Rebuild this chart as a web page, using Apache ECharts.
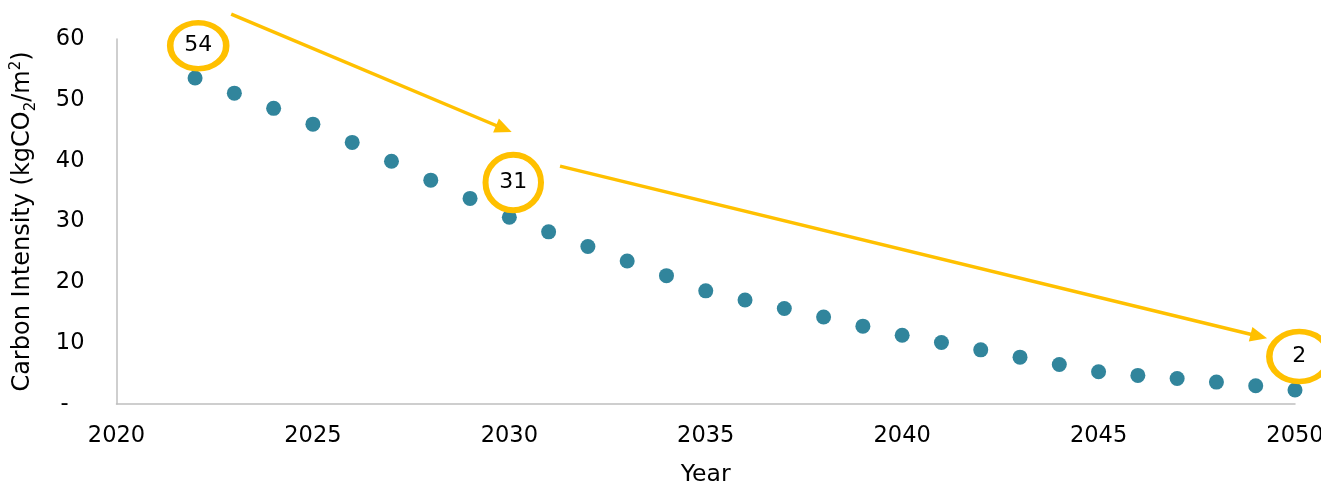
<!DOCTYPE html>
<html><head><meta charset="utf-8">
<script src="https://cdn.jsdelivr.net/npm/echarts@6/dist/echarts.min.js"></script>
<style>html,body{margin:0;padding:0;background:#fff}#c{width:1321px;height:483px}</style>
</head><body><div id="c"></div>
<script>
// ---- data ----
const years = [2022,2023,2024,2025,2026,2027,2028,2029,2030,2031,2032,2033,2034,2035,2036,2037,2038,2039,2040,2041,2042,2043,2044,2045,2046,2047,2048,2049,2050];
const intensity = [53.6,51.1,48.6,46.0,43.0,39.9,36.8,33.8,30.7,28.3,25.9,23.5,21.1,18.6,17.1,15.7,14.3,12.8,11.3,10.1,8.9,7.7,6.5,5.3,4.7,4.2,3.6,3.0,2.3];
const yTicks = [0,10,20,30,40,50,60];
const xTicks = [2020,2025,2030,2035,2040,2045,2050];
const calloutLabels = ['54','31','2'];
const calloutYear = [2022.08, 2030.10, 2050.11];
const calloutValue = [58.9, 36.4, 7.8];
const arrowStart = [[2022.92, 64.1],[2031.29, 39.1]];
const arrowEnd = [[2030.06, 44.7],[2049.29, 10.8]];

// ---- styles ----
const ringSizes = [[56,46],[55.5,55.5],[60,50]];
const FONT = 'DejaVu Sans';
const GOLD = '#FFC000';
const TEAL = '#31859C';

const chart = echarts.init(document.getElementById('c'), null, {renderer:'canvas'});
chart.setOption({
  animation:false,
  textStyle:{fontFamily:FONT},
  grid:{left:116.5, right:26, top:39, bottom:79, containLabel:false, outerBoundsMode:'none'},
  xAxis:{
    type:'value', min:xTicks[0], max:xTicks[xTicks.length-1], interval:5,
    name:'Year', nameLocation:'middle', nameGap:59,
    nameTextStyle:{fontSize:23.5, color:'#000', fontFamily:FONT},
    axisLine:{show:true, onZero:false, lineStyle:{color:'#BFBFBF', width:1.5}},
    axisTick:{show:false}, splitLine:{show:false},
    axisLabel:{fontSize:22.5, color:'#000', margin:21, formatter:v=>String(v), fontFamily:FONT}
  },
  yAxis:{
    type:'value', min:yTicks[0], max:yTicks[yTicks.length-1], interval:10,
    name:'Carbon Intensity (kgCO{sub|2}/m{sup|2})', nameLocation:'middle', nameGap:82,
    nameTextStyle:{fontSize:24, color:'#000', fontFamily:FONT,
      rich:{
        sub:{fontSize:15, fontFamily:FONT, color:'#000', verticalAlign:'bottom', padding:[0,0,-4,0]},
        sup:{fontSize:15, fontFamily:FONT, color:'#000', verticalAlign:'top', padding:[-2,0,0,0]}
      }},
    axisLine:{show:true, lineStyle:{color:'#BFBFBF', width:1.5}},
    axisTick:{show:false}, splitLine:{show:false},
    axisLabel:{fontSize:22.5, color:'#000', margin:32, fontFamily:FONT,
      formatter:v=> v===0 ? '{d|-}' : String(v),
      rich:{d:{fontSize:22.5, color:'#000', fontFamily:FONT, padding:[0,16,0,0]}}}
  },
  series:[
    {
      type:'scatter', symbol:'circle', symbolSize:15,
      itemStyle:{color:TEAL, opacity:1},
      data: years.map((y,i)=>[y,intensity[i]]),
      z:2
    },
    {
      type:'custom', clip:false, z:3,
      data: arrowStart.map((s,i)=>[s[0],s[1],arrowEnd[i][0],arrowEnd[i][1]]),
      encode:{x:[0,2], y:[1,3]},
      renderItem:(params, api)=>{
        const p1 = api.coord([api.value(0), api.value(1)]);
        const p2 = api.coord([api.value(2), api.value(3)]);
        const ang = Math.atan2(p2[1]-p1[1], p2[0]-p1[0]);
        const L = 17, W = 7.5;
        const bx = p2[0]-L*Math.cos(ang), by = p2[1]-L*Math.sin(ang);
        const nx = -Math.sin(ang), ny = Math.cos(ang);
        return {type:'group', children:[
          {type:'line', shape:{x1:p1[0], y1:p1[1], x2:bx+Math.cos(ang)*2, y2:by+Math.sin(ang)*2}, style:{stroke:GOLD, lineWidth:3.5}},
          {type:'polygon', shape:{points:[p2,[bx+nx*W,by+ny*W],[bx-nx*W,by-ny*W]]}, style:{fill:GOLD}}
        ]};
      }
    },
    {
      type:'scatter', clip:false, z:4, symbol:'circle',
      data: calloutLabels.map((t,i)=>({name:t, value:[calloutYear[i], calloutValue[i]], symbolSize:ringSizes[i]})),
      itemStyle:{color:'#fff', borderColor:GOLD, borderWidth:6, opacity:1},
      label:{show:true, position:'inside', formatter:p=>p.name, fontSize:22, color:'#000', fontFamily:FONT}
    }
  ]
});
</script>
</body></html>
